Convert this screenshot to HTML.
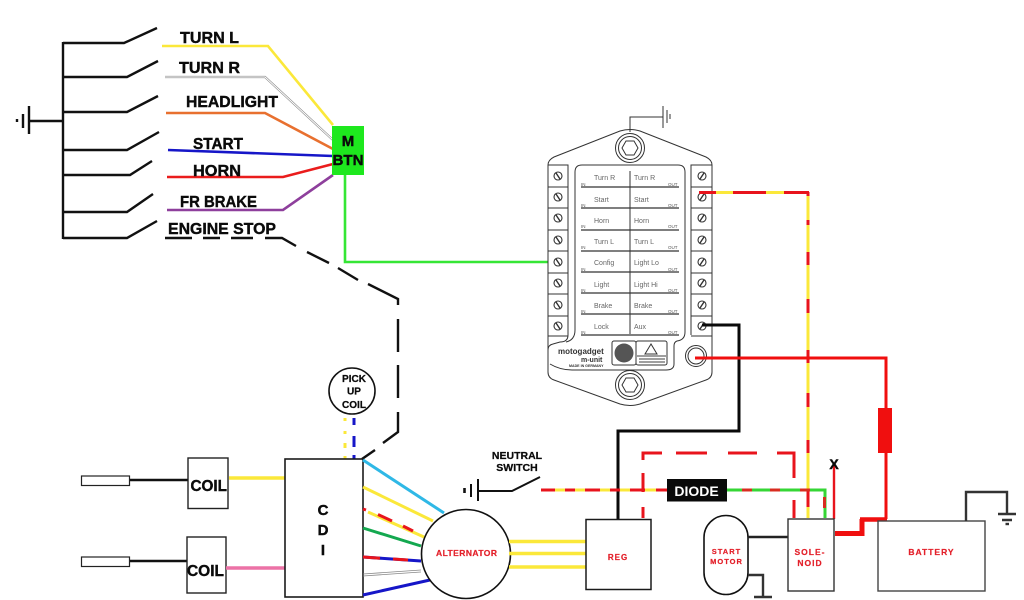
<!DOCTYPE html>
<html>
<head>
<meta charset="utf-8">
<style>
html,body{margin:0;padding:0;background:#fff;}
svg{display:block;}
.b{font-family:"Liberation Sans",sans-serif;font-weight:bold;fill:#0a0a0a;stroke:#0a0a0a;stroke-width:.4px;}
.r{font-family:"Liberation Sans",sans-serif;font-weight:bold;fill:#e3202a;stroke:#e3202a;stroke-width:.2px;}
.s{font-family:"Liberation Sans",sans-serif;fill:#666;font-size:7px;}
.o{font-family:"Liberation Sans",sans-serif;fill:#555;font-size:4.5px;}
</style>
</head>
<body>
<svg width="1024" height="600" viewBox="0 0 1024 600" xmlns="http://www.w3.org/2000/svg" fill="none" stroke-linecap="butt">
<!-- left switches -->
<g stroke="#111" stroke-width="2.4">
<path d="M63 42V239"/>
<path d="M63 43H124L157 28"/>
<path d="M63 77H127L158 61"/>
<path d="M63 112H127L158 96"/>
<path d="M63 150H127L159 132"/>
<path d="M63 175H130L152 161"/>
<path d="M63 212H127L153 194"/>
<path d="M63 238H127L157 221"/>
<path d="M30 121H63"/>
<path d="M29 106V134"/>
<path d="M23 114V128"/>
<path d="M17 119V122"/>
</g>
<!-- wires to M BTN -->
<path d="M162 46H268L333 125" stroke="#fbe83a" stroke-width="2.6"/>
<path d="M165 77H265L333 140" stroke="#888" stroke-width="2.2"/>
<path d="M165 77H265L333 140" stroke="#fff" stroke-width="1"/>
<path d="M166 113H265L333 149" stroke="#e8702f" stroke-width="2.6"/>
<path d="M168 150L333 156" stroke="#1616c8" stroke-width="2.6"/>
<path d="M167 177H283L333 164" stroke="#ea1c1c" stroke-width="2.6"/>
<path d="M167 210H283L333 175" stroke="#8e3f9c" stroke-width="2.6"/>
<path d="M345 175V262H548" stroke="#35e635" stroke-width="2.6"/>
<rect x="332" y="126" width="32" height="49" fill="#1ee81e"/>
<text class="b" x="348" y="146" font-size="15" text-anchor="middle">M</text>
<text class="b" x="332.500" y="165" font-size="15" textLength="31" lengthAdjust="spacingAndGlyphs">BTN</text>
<!-- labels -->
<g class="b" font-size="16">
<text x="180" y="43" textLength="59" lengthAdjust="spacingAndGlyphs">TURN L</text>
<text x="179" y="73" textLength="61" lengthAdjust="spacingAndGlyphs">TURN R</text>
<text x="186" y="107" textLength="92" lengthAdjust="spacingAndGlyphs">HEADLIGHT</text>
<text x="193" y="149" textLength="50" lengthAdjust="spacingAndGlyphs">START</text>
<text x="193" y="176" textLength="48" lengthAdjust="spacingAndGlyphs">HORN</text>
<text x="180" y="207" textLength="77" lengthAdjust="spacingAndGlyphs">FR BRAKE</text>
<text x="168" y="234" textLength="108" lengthAdjust="spacingAndGlyphs">ENGINE STOP</text>
</g>
<!-- engine stop dashed -->
<path d="M165 238H192M203 238H220M231 238H253M265 238H282L296 246M307 252L329 263M338 268L358 280M368 284L398 299V305M398 319V352M398 365V398M398 412V432L383 443M375 450L362 459" stroke="#111" stroke-width="2.4"/>
<!-- controller -->
<g stroke="#333" stroke-width="1">
<path d="M548 165Q548 160 554 157L620 131Q630 128 640 131L706 157Q712 160 712 165V372Q712 378 706 380L640 404Q630 407 620 404L554 380Q548 378 548 372Z" fill="#fff"/>
<path d="M548 165H568V335Q568 342 560 342L553 344Q548 345 548 350"/>
<path d="M712 165H691V335"/>
<path d="M575 330V172Q575 165 582 165H678Q685 165 685 172V332Q685 340 677 341Q674 342 674 346V364Q674 370 666 370H572Q560 370 550 364"/>
<path d="M575 330Q575 340 566 342"/>
<path d="M548 187H568M548 208H568M548 230H568M548 251H568M548 273H568M548 294H568M548 316H568M548 336H568"/>
<path d="M691 187H712M691 208H712M691 230H712M691 251H712M691 273H712M691 294H712M691 316H712M691 336H712"/>
<path d="M630 171V334"/>
<path d="M581 187H679M581 208H679M581 230H679M581 251H679M581 272H679M581 293H679M581 314H679M581 335H679" stroke-width="1.2"/>
<circle cx="630" cy="148" r="14.5"/><circle cx="630" cy="148" r="11.5"/>
<path d="M622 148L626 141H634L638 148L634 155H626Z"/>
<circle cx="630" cy="385" r="14.5"/><circle cx="630" cy="385" r="11.5"/>
<path d="M622 385L626 378H634L638 385L634 392H626Z"/>
<circle cx="696" cy="356" r="10.500"/><circle cx="696" cy="356" r="8"/>
<path d="M630 132V117H663M663 106V128M667 110V123M670 114V119"/>
<rect x="612" y="341" width="24" height="24" rx="2"/>
<rect x="636" y="341" width="31" height="24" rx="2"/>
</g>
<g stroke="#333" stroke-width="1.100" fill="#fff">
<circle cx="558" cy="176" r="4"/><circle cx="558" cy="197" r="4"/><circle cx="558" cy="218" r="4"/><circle cx="558" cy="240" r="4"/><circle cx="558" cy="262" r="4"/><circle cx="558" cy="283" r="4"/><circle cx="558" cy="305" r="4"/><circle cx="558" cy="326" r="4"/>
<circle cx="702" cy="176" r="4"/><circle cx="702" cy="197" r="4"/><circle cx="702" cy="218" r="4"/><circle cx="702" cy="240" r="4"/><circle cx="702" cy="262" r="4"/><circle cx="702" cy="283" r="4"/><circle cx="702" cy="305" r="4"/><circle cx="702" cy="326" r="4"/>
</g>
<path d="M556 173L560 179M556 194L560 200M556 215L560 221M556 237L560 243M556 259L560 265M556 280L560 286M556 302L560 308M556 323L560 329M704 173L700 179M704 194L700 200M704 215L700 221M704 237L700 243M704 259L700 265M704 280L700 286M704 302L700 308M704 323L700 329" stroke="#333" stroke-width="1.400"/>
<circle cx="624" cy="353" r="9.500" fill="#555"/>
<path d="M651 344L645 354H657Z" stroke="#333"/>
<path d="M637 356H666M639 359H665M639 362H665" stroke="#666" stroke-width="1.200"/>
<g class="s">
<text x="594" y="180">Turn R</text><text x="634" y="180">Turn R</text>
<text x="594" y="202">Start</text><text x="634" y="202">Start</text>
<text x="594" y="223">Horn</text><text x="634" y="223">Horn</text>
<text x="594" y="244">Turn L</text><text x="634" y="244">Turn L</text>
<text x="594" y="265">Config</text><text x="634" y="265">Light Lo</text>
<text x="594" y="287">Light</text><text x="634" y="287">Light Hi</text>
<text x="594" y="308">Brake</text><text x="634" y="308">Brake</text>
<text x="594" y="329">Lock</text><text x="634" y="329">Aux</text>
</g>
<g class="o">
<text x="581" y="186">IN</text><text x="668" y="186">OUT</text>
<text x="581" y="207">IN</text><text x="668" y="207">OUT</text>
<text x="581" y="228">IN</text><text x="668" y="228">OUT</text>
<text x="581" y="249">IN</text><text x="668" y="249">OUT</text>
<text x="581" y="271">IN</text><text x="668" y="271">OUT</text>
<text x="581" y="292">IN</text><text x="668" y="292">OUT</text>
<text x="581" y="313">IN</text><text x="668" y="313">OUT</text>
<text x="581" y="334">IN</text><text x="668" y="334">OUT</text>
</g>
<text x="558" y="354" font-family="Liberation Sans,sans-serif" font-weight="bold" font-size="8" fill="#333">motogadget</text>
<text x="581" y="362" font-family="Liberation Sans,sans-serif" font-weight="bold" font-size="7" fill="#333">m-unit</text>
<text x="569" y="367" font-family="Liberation Sans,sans-serif" font-weight="bold" font-size="3.600" fill="#333">MADE IN GERMANY</text>
<!-- controller yellow/red wire -->
<path d="M808 192V518" stroke="#fbe83a" stroke-width="3"/>
<path d="M699 192.500H716M733 192.500H766M784 192.500H809M808 192V196M808 220V225M808 252V265M808 299V313M808 350V363M808 393V407M808 440V453M808 490V507" stroke="#e8141c" stroke-width="3"/>
<path d="M716 192.500H733M766 192.500H784" stroke="#fbe83a" stroke-width="3"/>
<path d="M702 325H739V431H618V520" stroke="#0a0a0a" stroke-width="3"/>
<path d="M695 358H886V408" stroke="#f00f0f" stroke-width="3"/>
<rect x="878" y="408" width="14" height="45" fill="#f00f0f"/>
<path d="M886 453V519" stroke="#f00f0f" stroke-width="3"/>
<path d="M860 519.500H887" stroke="#f00f0f" stroke-width="4.500"/>
<path d="M835 533.500H862V519" stroke="#f00f0f" stroke-width="5"/>
<!-- pick up coil -->
<path d="M345 418V421M345 431V434M345 443V448M345 456V459" stroke="#fbe83a" stroke-width="3"/>
<path d="M354 418V425M354 436V447M354 455V459" stroke="#1616c8" stroke-width="3"/>
<circle cx="352" cy="391" r="23" stroke="#111" stroke-width="1.600" fill="#fff"/>
<g class="b" font-size="10" text-anchor="middle" style="stroke-width:.25px">
<text x="354" y="382">PICK</text><text x="354" y="394.500">UP</text><text x="354" y="408">COIL</text>
</g>
<!-- spark plugs and coils -->
<rect x="81.500" y="476" width="48" height="9.500" fill="#fff" stroke="#222" stroke-width="1.200"/>
<rect x="81.500" y="557" width="48" height="9.500" fill="#fff" stroke="#222" stroke-width="1.200"/>
<path d="M130 480H188M130 561H187" stroke="#111" stroke-width="2.600"/>
<rect x="188" y="458" width="40" height="50.500" fill="#fff" stroke="#222" stroke-width="1.400"/>
<rect x="187" y="537" width="39" height="56" fill="#fff" stroke="#222" stroke-width="1.400"/>
<text class="b" x="190.500" y="491" font-size="16" textLength="36.500" lengthAdjust="spacingAndGlyphs">COIL</text>
<text class="b" x="187" y="576" font-size="16" textLength="37" lengthAdjust="spacingAndGlyphs">COIL</text>
<path d="M229 478H285" stroke="#fbe83a" stroke-width="3.400"/>
<path d="M226 568H285" stroke="#ec72a6" stroke-width="3.400"/>
<!-- CDI -->
<rect x="285" y="459" width="78" height="138" fill="#fff" stroke="#1a1a1a" stroke-width="1.600"/>
<g class="b" font-size="15" text-anchor="middle">
<text x="323" y="515">C</text><text x="323" y="535">D</text><text x="323" y="555">I</text>
</g>
<!-- CDI to alternator -->
<path d="M363 460L444 513" stroke="#2fb8e6" stroke-width="3"/>
<path d="M363 487L433 521" stroke="#fbe83a" stroke-width="3"/>
<path d="M368 512L424 537" stroke="#fbe83a" stroke-width="3"/>
<path d="M363 509L366 510M378 514.500L392 521M403 526L413 531" stroke="#e8141c" stroke-width="3"/>
<path d="M363 528L421 546" stroke="#13a84f" stroke-width="3"/>
<path d="M363 557L421 561" stroke="#1616c8" stroke-width="3"/>
<path d="M363 557L380 558.200M393 559L408 560" stroke="#e8141c" stroke-width="3"/>
<path d="M363 574L421 570M363 576L421 572" stroke="#888" stroke-width="0.800"/>
<path d="M363 595L430 580" stroke="#1616c8" stroke-width="3"/>
<circle cx="466" cy="554" r="44.500" fill="#fff" stroke="#111" stroke-width="1.600"/>
<text class="r" x="436" y="556" font-size="8.500" textLength="61">ALTERNATOR</text>
<!-- alternator to reg -->
<path d="M509 541.500H586M509 553.500H586M509 567H586" stroke="#fbe83a" stroke-width="3.400"/>
<rect x="586" y="519.500" width="65" height="70" fill="#fff" stroke="#1a1a1a" stroke-width="1.500"/>
<text class="r" x="618" y="560" font-size="8" text-anchor="middle" letter-spacing="1">REG</text>
<!-- neutral switch -->
<text class="b" x="517" y="459" font-size="10.500" text-anchor="middle" style="stroke-width:.25px">NEUTRAL</text>
<text class="b" x="517" y="471" font-size="10.500" text-anchor="middle" style="stroke-width:.25px">SWITCH</text>
<path d="M478 491H512L540 477M478 479V501M471 484V497" stroke="#111" stroke-width="2"/>
<path d="M464.500 488V493" stroke="#111" stroke-width="2.600"/>
<!-- neutral line -->
<path d="M541 490H667" stroke="#fbe83a" stroke-width="3"/>
<path d="M541 490H555M565 490H575M585 490H600M610 490H620M630 490H645M656 490H667" stroke="#e8141c" stroke-width="3"/>
<path d="M727 490H825V518" stroke="#35d635" stroke-width="3"/>
<path d="M742 490H752M770 490H780M800 490H810M824.500 497V508" stroke="#d82c20" stroke-width="3"/>
<!-- dashed red loop -->
<path d="M643 518V507M643 492V473M643 460V453H662M676 453H707M728 453H757M777 453H794V478M794 500V518" stroke="#e8141c" stroke-width="3"/>
<rect x="667" y="479" width="60" height="22.500" fill="#0a0a0a"/>
<text x="696.500" y="496" font-family="Liberation Sans,sans-serif" font-weight="bold" font-size="14" fill="#fff" text-anchor="middle">DIODE</text>
<path d="M834 519V466" stroke="#e8141c" stroke-width="2.400"/>
<text class="b" x="834" y="469" font-size="14" text-anchor="middle">X</text>
<!-- start motor -->
<rect x="704" y="515.500" width="44" height="79" rx="22" fill="#fff" stroke="#111" stroke-width="1.600"/>
<text class="r" x="726.500" y="554" font-size="7.500" text-anchor="middle" letter-spacing="1">START</text>
<text class="r" x="726.500" y="564" font-size="7.500" text-anchor="middle" letter-spacing="1">MOTOR</text>
<path d="M748 537H788" stroke="#222" stroke-width="2.400"/>
<path d="M748 575H763V597M754 597H772" stroke="#333" stroke-width="2.400"/>
<!-- solenoid -->
<rect x="788" y="519" width="46" height="72" fill="#fff" stroke="#333" stroke-width="1.400"/>
<text class="r" x="810" y="555" font-size="8.500" text-anchor="middle" letter-spacing="1">SOLE-</text>
<text class="r" x="810" y="566" font-size="8.500" text-anchor="middle" letter-spacing="1">NOID</text>
<!-- battery -->
<rect x="878" y="521" width="107" height="70" fill="#fff" stroke="#444" stroke-width="1.400"/>
<text class="r" x="931.500" y="555" font-size="8.500" text-anchor="middle" letter-spacing="1">BATTERY</text>
<path d="M966 521V492H1007V514M998 514H1016M1002 520H1012" stroke="#333" stroke-width="2.400"/>
<path d="M1005.500 524H1009" stroke="#333" stroke-width="2.400"/>
</svg>
</body>
</html>
